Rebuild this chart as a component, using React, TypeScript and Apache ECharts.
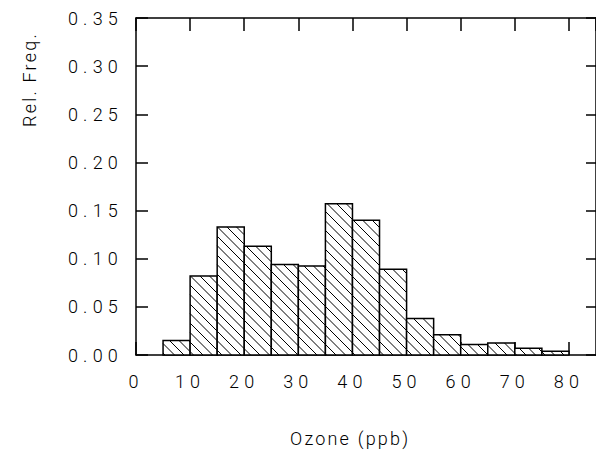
import React, { useEffect, useRef } from "react";
import * as echarts from "echarts";

const binStarts = [5, 10, 15, 20, 25, 30, 35, 40, 45, 50, 55, 60, 65, 70, 75];
const binWidth = 5;
const relFreq = [0.015, 0.082, 0.133, 0.113, 0.094, 0.0925, 0.157, 0.14, 0.089, 0.038, 0.021, 0.011, 0.0125, 0.007, 0.004];
const xTitle = "Ozone (ppb)";
const yTitle = "Rel. Freq.";

const FONT = "Roboto";
const WEIGHT = 300;
const HATCH = 9.5;

const css = `
svg text[text-anchor="end"], svg text[text-anchor="middle"] { letter-spacing: 5.2px; }
svg text[text-anchor="start"] { letter-spacing: 2.2px; }
`;

export default function App() {
  const ref = useRef<HTMLDivElement>(null);
  useEffect(() => {
    if (!ref.current) return;
    const chart = echarts.init(ref.current, undefined, { renderer: "svg" });
    const data = binStarts.map((s, i) => [s, s + binWidth, relFreq[i]]);
    const axisLine = { show: true, onZero: false, lineStyle: { color: "#000", width: 1.5 } };
    const tick = (len: number) => ({ show: true, inside: true, length: len, lineStyle: { color: "#000", width: 1.5 } });
    const labelStyle = { fontSize: 18, fontFamily: FONT, fontWeight: WEIGHT, color: "#000" };
    chart.setOption({
      animation: false,
      backgroundColor: "#fff",
      grid: { left: 136, top: 18, width: 464, height: 337, containLabel: false },
      xAxis: [
        {
          type: "value", min: 0, max: 85, interval: 10, position: "bottom",
          axisLine, splitLine: { show: false }, axisTick: tick(13),
          axisLabel: { margin: 17, ...labelStyle, showMaxLabel: false },
        },
        {
          type: "value", min: 0, max: 85, interval: 10, position: "top",
          axisLine, splitLine: { show: false }, axisTick: tick(13),
          axisLabel: { show: false },
        },
      ],
      yAxis: [
        {
          type: "value", min: 0, max: 0.35, interval: 0.05, position: "left",
          axisLine, splitLine: { show: false }, axisTick: tick(12),
          axisLabel: { margin: 13, ...labelStyle, formatter: (v: number) => v.toFixed(2) },
        },
        {
          type: "value", min: 0, max: 0.35, interval: 0.05, position: "right",
          axisLine, splitLine: { show: false }, axisTick: tick(10),
          axisLabel: { show: false },
        },
      ],
      graphic: [
        {
          type: "text", x: 290, y: 438,
          style: { text: xTitle, fontSize: 18, fontFamily: FONT, fontWeight: WEIGHT, fill: "#000", align: "left", verticalAlign: "middle" },
        },
        {
          type: "text", x: 29, y: 127, rotation: Math.PI / 2,
          style: { text: yTitle, fontSize: 18, fontFamily: FONT, fontWeight: WEIGHT, fill: "#000", align: "left", verticalAlign: "middle" },
        },
      ],
      series: [
        {
          type: "custom",
          xAxisIndex: 0,
          yAxisIndex: 0,
          data,
          encode: { x: [0, 1], y: 2 },
          renderItem: (params: any, api: any) => {
            const p0 = api.coord([api.value(0), api.value(2)]);
            const p1 = api.coord([api.value(1), 0]);
            const L = p0[0], T = p0[1], R = p1[0], B = p1[1];
            const children: any[] = [
              { type: "rect", shape: { x: L, y: T, width: R - L, height: B - T }, style: { fill: "#fff", stroke: null } },
            ];
            const cStart = Math.floor((L - B) / HATCH) * HATCH;
            for (let c = cStart; c <= R - T; c += HATCH) {
              const xa = Math.max(L, T + c);
              const xb = Math.min(R, B + c);
              if (xb - xa > 0.5) {
                children.push({
                  type: "line",
                  shape: { x1: xa, y1: xa - c, x2: xb, y2: xb - c },
                  style: { stroke: "#000", lineWidth: 1 },
                });
              }
            }
            children.push({
              type: "rect", shape: { x: L, y: T, width: R - L, height: B - T },
              style: { fill: "none", stroke: "#000", lineWidth: 1.5 },
            });
            return { type: "group", children };
          },
        },
      ],
    });
    return () => chart.dispose();
  }, []);
  return (
    <>
      <style>{css}</style>
      <div ref={ref} style={{ position: "absolute", left: 0, top: 0, width: 596, height: 453 }} />
    </>
  );
}
